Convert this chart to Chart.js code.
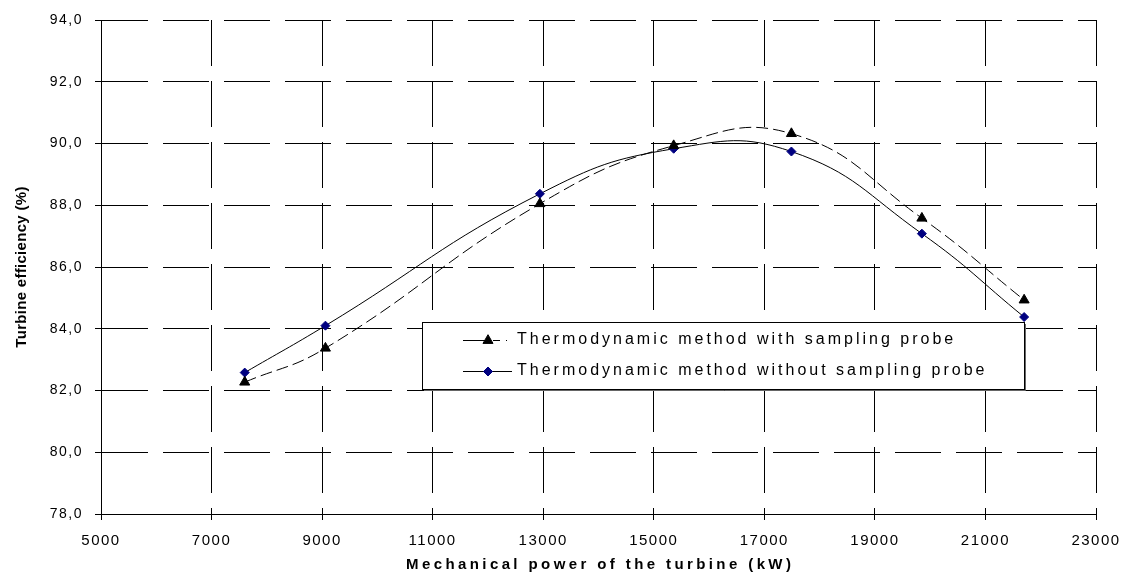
<!DOCTYPE html>
<html><head><meta charset="utf-8">
<script src="https://cdn.jsdelivr.net/npm/chart.js@4/dist/chart.umd.min.js"></script>
<style>html,body{margin:0;padding:0;background:#fff;}canvas{display:block;}</style>
</head><body>
<canvas id="c" width="1121" height="576"></canvas>
<script>
// ---- data ----
const powerKW = [7600, 9060, 12940, 15360, 17490, 19850, 21700];
const effWithProbe = [82.27, 83.37, 88.05, 89.93, 90.32, 87.58, 84.93];
const effWithoutProbe = [82.58, 84.10, 88.37, 89.83, 89.74, 87.08, 84.38];
const seriesNames = ['Thermodynamic method with sampling probe', 'Thermodynamic method without sampling probe'];
const xTitle = 'Mechanical power of the turbine (kW)';
const yTitle = 'Turbine efficiency (%)';
const xTicks = [5000, 7000, 9000, 11000, 13000, 15000, 17000, 19000, 21000, 23000];
const yTicks = [78, 80, 82, 84, 86, 88, 90, 92, 94];

const toPts = (xs, ys) => xs.map((x, i) => ({x: x, y: ys[i]}));
const FONT = '"Liberation Sans", Arial, sans-serif';

const spacing = {
  id: 'spacing',
  beforeDraw(chart) { chart.ctx.letterSpacing = '1.5px'; },
  afterDraw(chart) { chart.ctx.letterSpacing = '0px'; }
};

const axisTitles = {
  id: 'axisTitles',
  afterDraw(chart) {
    const ctx = chart.ctx;
    const a = chart.chartArea;
    ctx.save();
    ctx.fillStyle = '#000';
    ctx.textAlign = 'center';
    ctx.textBaseline = 'middle';
    ctx.font = 'bold 15px ' + FONT;
    ctx.letterSpacing = '3.4px';
    ctx.fillText(xTitle, (a.left + a.right) / 2 + 1.7, 565);
    ctx.translate(22, (a.top + a.bottom) / 2);
    ctx.rotate(-Math.PI / 2);
    ctx.letterSpacing = '0.3px';
    ctx.fillText(yTitle, 0, 0);
    ctx.restore();
  }
};

const boxLegend = {
  id: 'boxLegend',
  afterDraw(chart) {
    const ctx = chart.ctx;
    const L = 422, T = 322, R = 1024, B = 389;
    ctx.save();
    ctx.fillStyle = '#fff';
    ctx.fillRect(L, T, R - L, B - T);
    ctx.strokeStyle = '#000';
    ctx.lineWidth = 1;
    ctx.strokeRect(L + 0.5, T + 0.5, R - L, B - T);
    ctx.strokeStyle = '#666';
    ctx.beginPath();
    ctx.moveTo(R + 1.5, T + 2); ctx.lineTo(R + 1.5, B + 1.5); ctx.lineTo(L + 2, B + 1.5);
    ctx.stroke();
    const rows = [340, 371];
    chart.data.datasets.forEach((ds, i) => {
      const y = rows[i] + 0.5;
      ctx.strokeStyle = ds.borderColor;
      ctx.lineWidth = 1;
      ctx.setLineDash(i === 0 ? [22, 8, 7, 6, 1, 50] : []);
      ctx.beginPath(); ctx.moveTo(463, y); ctx.lineTo(512, y); ctx.stroke();
      ctx.setLineDash([]);
      ctx.fillStyle = ds.pointBackgroundColor;
      ctx.strokeStyle = ds.pointBorderColor;
      Chart.helpers.drawPoint(ctx, {pointStyle: ds.pointStyle, radius: ds.pointRadius, rotation: 0, borderWidth: 1}, 488, y);
      ctx.fillStyle = '#000';
      ctx.font = '16px ' + FONT;
      ctx.textBaseline = 'middle';
      ctx.textAlign = 'left';
      ctx.letterSpacing = '3px';
      ctx.fillText(ds.label, 517, rows[i]);
    });
    ctx.restore();
  }
};

new Chart(document.getElementById('c'), {
  type: 'scatter',
  data: {
    datasets: [
      {
        label: seriesNames[0],
        data: toPts(powerKW, effWithProbe),
        showLine: true,
        tension: 0.45,
        borderColor: '#000',
        borderWidth: 1,
        borderDash: [12, 5],
        pointStyle: 'triangle',
        pointRadius: 5.8,
        pointHoverRadius: 5.8,
        pointBackgroundColor: '#000',
        pointBorderColor: '#000',
        pointBorderWidth: 1
      },
      {
        label: seriesNames[1],
        data: toPts(powerKW, effWithoutProbe),
        showLine: true,
        tension: 0.45,
        borderColor: '#000',
        borderWidth: 1,
        pointStyle: 'rectRot',
        pointRadius: 4.5,
        pointHoverRadius: 4.5,
        pointBackgroundColor: '#000080',
        pointBorderColor: '#000080',
        pointBorderWidth: 1
      }
    ]
  },
  options: {
    responsive: false,
    devicePixelRatio: 1,
    animation: false,
    events: [],
    layout: {padding: {top: 20, right: 25, left: 0, bottom: 0}},
    plugins: {legend: {display: false}, tooltip: {enabled: false}},
    scales: {
      x: {
        type: 'linear',
        min: xTicks[0], max: xTicks[xTicks.length - 1],
        afterBuildTicks: s => { s.ticks = xTicks.map(v => ({value: v})); },
        afterFit: s => { s.height = 62; s.paddingLeft = 0; s.paddingRight = 0; },
        ticks: {color: '#000', font: {family: FONT, size: 15}, padding: 12, maxRotation: 0,
                callback: v => String(v)},
        grid: {color: '#000', lineWidth: 1, tickLength: 6, tickColor: '#000'},
        border: {display: true, color: '#000', width: 1, dash: [46, 15]},
        title: {display: false}
      },
      y: {
        type: 'linear',
        min: yTicks[0], max: yTicks[yTicks.length - 1],
        afterBuildTicks: s => { s.ticks = yTicks.map(v => ({value: v})); },
        afterFit: s => { s.width = 101; s.paddingTop = 0; s.paddingBottom = 0; },
        ticks: {color: '#000', font: {family: FONT, size: 14}, padding: 12,
                callback: v => v.toFixed(1).replace('.', ',')},
        grid: {color: '#000', lineWidth: 1, tickLength: 6, tickColor: '#000'},
        border: {display: true, color: '#000', width: 1, dash: [46, 15]},
        title: {display: false}
      }
    }
  },
  plugins: [spacing, axisTitles, boxLegend]
});
</script>
</body></html>
